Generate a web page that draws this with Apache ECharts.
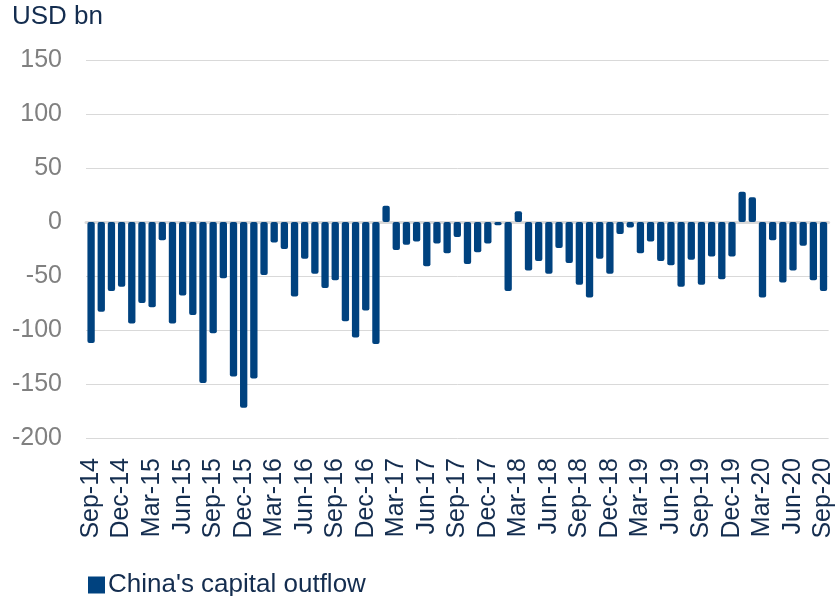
<!DOCTYPE html>
<html>
<head>
<meta charset="utf-8">
<style>
  html, body { margin: 0; padding: 0; background: #fff; }
  #chart { width: 836px; height: 596px; }
</style>
<script src="https://cdn.jsdelivr.net/npm/echarts@6/dist/echarts.min.js"></script>
</head>
<body>
<div id="chart"></div>
<script>
// months Sep-14 .. Sep-20
const monthNames = ["Jan", "Feb", "Mar", "Apr", "May", "Jun", "Jul", "Aug", "Sep", "Oct", "Nov", "Dec"];
const months = [];
for (let y = 14, m = 8; y < 20 || (y === 20 && m <= 8); m++) {
    if (m === 12) { m = 0; y++; }
    months.push(monthNames[m] + "-" + y);
}

// China's capital outflow, USD bn
const outflow = [
    -112, -83, -64, -60, -94, -75, -79, -17, -94, -68, -86, -149,
    -103, -52, -143, -172, -145, -49, -19, -25, -69, -34, -48, -61,
    -54, -92, -107, -82, -113, 15, -26, -21, -18, -41, -20, -29,
    -14, -39, -28, -20, -3, -64, 10, -45, -36, -48, -24, -38,
    -58, -70, -34, -48, -11, -5, -29, -18, -36, -40, -60, -35,
    -58, -32, -53, -32, 28, 23, -70, -17, -56, -45, -22, -54,
    -64
];

const yTicks = { min: -200, max: 150, step: 50 };

const chart = echarts.init(document.getElementById("chart"));

const option = {
    animation: false,
    textStyle: { fontFamily: "Liberation Sans, Arial, sans-serif" },
    graphic: [
        {
            type: "text",
            left: 12,
            top: 4,
            style: { text: "USD bn", fontSize: 26, fill: "#142d4f", fontFamily: "Liberation Sans, Arial, sans-serif" }
        }
    ],
    legend: {
        data: ["China's capital outflow"],
        left: 83,
        top: 567,
        itemWidth: 17,
        itemHeight: 17,
        icon: "rect",
        textStyle: { fontSize: 26, color: "#142d4f", padding: [0, 0, 0, -2] }
    },
    grid: {
        left: 86,
        right: 4,
        top: 60,
        bottom: 158
    },
    xAxis: [
        {
            type: "category",
            data: months,
            axisLine: { show: false, onZero: false },
            axisTick: { show: false },
            axisLabel: {
                interval: 2,
                rotate: 90,
                margin: 20,
                fontSize: 25,
                color: "#142d4f"
            }
        },
        {
            type: "category",
            data: months,
            position: "bottom",
            axisLine: { show: true, onZero: true, lineStyle: { color: "#d9d9d9", width: 3 } },
            axisTick: { show: false },
            axisLabel: { show: false }
        }
    ],
    yAxis: {
        type: "value",
        min: yTicks.min,
        max: yTicks.max,
        interval: yTicks.step,
        axisLine: { show: false },
        axisTick: { show: false },
        axisLabel: { fontSize: 25, color: "#808080", margin: 24 },
        splitLine: { lineStyle: { color: "#d9d9d9", width: 1 } }
    },
    series: [
        {
            name: "China's capital outflow",
            type: "bar",
            data: outflow,
            barCategoryGap: "28%",
            itemStyle: { color: "#00427f", borderRadius: 2 }
        }
    ]
};

chart.setOption(option);
window.addEventListener("resize", () => chart.resize());
</script>
</body>
</html>
